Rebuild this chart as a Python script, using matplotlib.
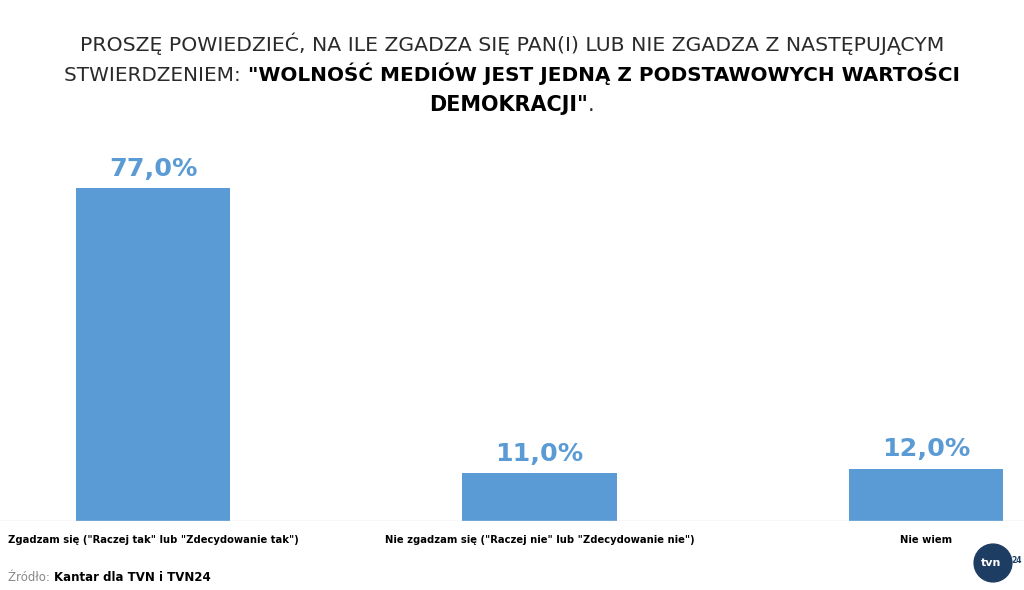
import matplotlib.pyplot as plt
from matplotlib.patches import Circle

categories = ['Zgadzam się ("Raczej tak" lub "Zdecydowanie tak")',
              'Nie zgadzam się ("Raczej nie" lub "Zdecydowanie nie")',
              'Nie wiem']
values = [77.0, 11.0, 12.0]
labels = ['77,0%', '11,0%', '12,0%']

FAM = ['DejaVu Sans']
bar_color = '#5B9BD5'

fig = plt.figure(figsize=(10.24, 5.9), dpi=100)
ax = fig.add_axes([0, 0.117, 1, 0.732])
x = list(range(len(values)))
ax.bar(x, values, width=0.4, color=bar_color)
ax.set_xlim(-0.396, 2.254)
ax.set_ylim(0, 100)
ax.axis('off')
ax.axhline(0, color='#d9d9d9', lw=1)

renderer = fig.canvas.get_renderer()


def fit(t, target):
    w = t.get_window_extent(renderer).width
    t.set_fontsize(t.get_fontsize() * target / w)
    return t.get_fontsize()


for xi, v, lab in zip(x, values, labels):
    t = ax.text(xi, v + 1.8, lab, ha='center', va='bottom', fontsize=20,
                fontweight='bold', color=bar_color, family=FAM)
    fit(t, 88)

cat_texts = [ax.text(xi, -3.3, c, ha='center', va='top', fontsize=10,
                     fontweight='bold', color='black', family=FAM)
             for xi, c in zip(x, categories)]
size = fit(cat_texts[0], 292)
for t in cat_texts[1:]:
    t.set_fontsize(size)


def line(parts, y, size=20, target=None):
    # parts: list of (text, weight, color); drawn centered
    objs = [fig.text(0, y, t, fontsize=size, fontweight=w, color=c,
                     family=FAM, va='baseline') for t, w, c in parts]
    widths = [o.get_window_extent(renderer).width for o in objs]
    total = sum(widths)
    if target:
        scale = target / total
        for o in objs:
            o.set_fontsize(size * scale)
        widths = [o.get_window_extent(renderer).width for o in objs]
        total = sum(widths)
    xpos = (1024 - total) / 2
    for o, w in zip(objs, widths):
        o.set_x(xpos / 1024)
        xpos += w


dark = '#2a2a2a'
line([('PROSZĘ POWIEDZIEĆ, NA ILE ZGADZA SIĘ PAN(I) LUB NIE ZGADZA Z NASTĘPUJĄCYM', 'normal', dark)],
     1 - 51 / 590, target=862)
line([('STWIERDZENIEM: ', 'normal', dark),
      ('"WOLNOŚĆ MEDIÓW JEST JEDNĄ Z PODSTAWOWYCH WARTOŚCI', 'bold', 'black')],
     1 - 81 / 590, target=890)
line([('DEMOKRACJI"', 'bold', 'black'), ('.', 'normal', dark)],
     1 - 111 / 590, target=166)

src1 = fig.text(8 / 1024, 1 - 581 / 590, 'Źródło: ', fontsize=8.5, color='#888888',
                family=FAM, va='baseline')
w1 = src1.get_window_extent(renderer).width
src2 = fig.text((8 + w1) / 1024, 1 - 581 / 590, 'Kantar dla TVN i TVN24', fontsize=8.5,
                fontweight='bold', color='black', family=FAM, va='baseline')

# logo
logo = fig.add_axes([966 / 1024, 1 - 590 / 590, 54 / 1024, 54 / 590])
logo.set_xlim(0, 1)
logo.set_ylim(0, 1)
logo.set_aspect('equal')
logo.axis('off')
logo.add_patch(Circle((0.5, 0.5), 0.35, color='#1d3e62'))
logo.text(0.47, 0.5, 'tvn', color='white', fontsize=8, fontweight='bold',
          ha='center', va='center', family=FAM)
logo.text(0.93, 0.55, '24', color='#1d3e62', fontsize=5.5, fontweight='bold',
          ha='center', va='center', family=FAM)

fig.savefig('out.png', dpi=100)
